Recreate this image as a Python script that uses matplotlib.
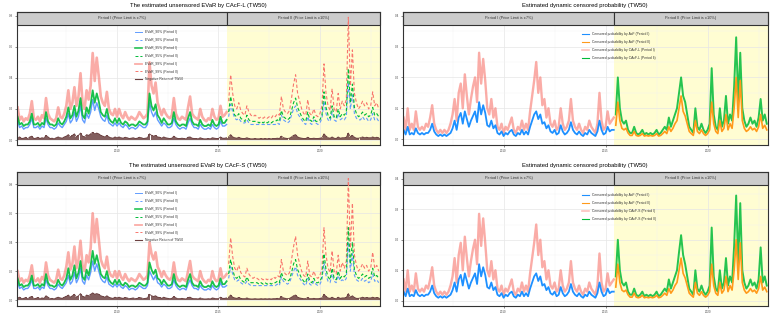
import numpy as np
import matplotlib
matplotlib.use("Agg")
import matplotlib.pyplot as plt
from matplotlib.lines import Line2D
from matplotlib.patches import Rectangle

plt.rcParams['font.family'] = ['Liberation Sans', 'DejaVu Sans']

# ---------------- data (fractional-year sampling grid, step 0.1 yr) ----------------
start_I, start_II, step = 2005.1, 2015.5, 0.1
split_year = 2015.42
strip_labels = ["Period I (Price Limit is \u00b17%)", "Period II (Price Limit is \u00b110%)"]
x_ticks = [2010, 2015, 2020]

# --- EVaR by CAcF-L (top-left)
evar99_L_I = [0.21,0.13,0.15,0.12,0.14,0.13,0.17,0.25,0.14,0.13,
              0.15,0.12,0.16,0.14,0.27,0.17,0.14,0.13,0.12,0.14,
              0.21,0.15,0.14,0.17,0.22,0.32,0.20,0.24,0.34,0.22,
              0.28,0.43,0.24,0.20,0.32,0.26,0.35,0.56,0.38,0.53,
              0.41,0.28,0.24,0.22,0.31,0.20,0.17,0.16,0.20,0.15,
              0.20,0.16,0.14,0.18,0.15,0.13,0.15,0.14,0.13,0.15,
              0.18,0.16,0.14,0.15,0.17,0.50,0.35,0.30,0.37,0.24,
              0.20,0.16,0.20,0.17,0.15,0.14,0.16,0.27,0.17,0.14,
              0.13,0.15,0.14,0.13,0.21,0.28,0.17,0.15,0.14,0.13,
              0.20,0.15,0.13,0.12,0.14,0.13,0.20,0.15,0.13,0.14,
              0.22,0.15,0.16,0.18]
evar95_L_I = [0.15,0.10,0.11,0.09,0.10,0.10,0.12,0.17,0.10,0.10,
              0.11,0.09,0.11,0.10,0.18,0.12,0.10,0.10,0.09,0.10,
              0.14,0.11,0.10,0.12,0.15,0.21,0.14,0.16,0.22,0.15,
              0.19,0.27,0.16,0.14,0.21,0.17,0.23,0.32,0.24,0.30,
              0.25,0.18,0.16,0.15,0.20,0.14,0.12,0.11,0.14,0.11,
              0.14,0.11,0.10,0.12,0.11,0.09,0.10,0.10,0.09,0.10,
              0.12,0.11,0.10,0.10,0.12,0.30,0.22,0.19,0.23,0.16,
              0.14,0.11,0.14,0.12,0.10,0.10,0.11,0.18,0.12,0.10,
              0.09,0.10,0.10,0.09,0.14,0.18,0.12,0.10,0.10,0.09,
              0.13,0.10,0.09,0.09,0.10,0.09,0.13,0.10,0.09,0.10,
              0.15,0.11,0.11,0.13]
evar90_L_I = [0.12,0.08,0.09,0.07,0.08,0.08,0.10,0.14,0.08,0.08,
              0.09,0.07,0.09,0.08,0.14,0.10,0.08,0.08,0.07,0.08,
              0.11,0.09,0.08,0.10,0.12,0.17,0.11,0.13,0.18,0.12,
              0.15,0.22,0.13,0.11,0.17,0.14,0.18,0.26,0.19,0.24,
              0.20,0.15,0.13,0.12,0.16,0.11,0.10,0.09,0.11,0.09,
              0.11,0.09,0.08,0.10,0.09,0.07,0.08,0.08,0.07,0.08,
              0.10,0.09,0.08,0.08,0.10,0.24,0.18,0.15,0.18,0.13,
              0.11,0.09,0.11,0.10,0.08,0.08,0.09,0.14,0.10,0.08,
              0.07,0.08,0.08,0.07,0.11,0.14,0.10,0.08,0.08,0.07,
              0.10,0.08,0.07,0.07,0.08,0.07,0.10,0.08,0.07,0.08,
              0.12,0.09,0.09,0.10]
evar99_L_II = [0.25,0.42,0.30,0.22,0.20,0.24,0.19,0.17,0.16,0.22,
               0.18,0.16,0.15,0.16,0.15,0.14,0.15,0.14,0.15,0.14,
               0.15,0.14,0.16,0.15,0.17,0.16,0.28,0.20,0.18,0.17,
               0.19,0.27,0.36,0.42,0.30,0.25,0.20,0.17,0.16,0.26,
               0.17,0.16,0.20,0.16,0.15,0.17,0.22,0.49,0.30,0.22,
               0.19,0.33,0.20,0.18,0.30,0.20,0.25,0.22,0.26,0.79,
               0.35,0.58,0.30,0.24,0.20,0.22,0.25,0.22,0.24,0.20,
               0.22,0.31,0.22,0.24,0.20]
evar95_L_II = [0.18,0.28,0.21,0.16,0.15,0.17,0.14,0.13,0.12,0.16,
               0.13,0.12,0.12,0.12,0.12,0.11,0.12,0.11,0.12,0.11,
               0.12,0.11,0.12,0.12,0.13,0.12,0.19,0.15,0.14,0.13,
               0.14,0.19,0.24,0.27,0.21,0.18,0.15,0.13,0.12,0.18,
               0.13,0.12,0.15,0.12,0.12,0.13,0.16,0.31,0.21,0.16,
               0.14,0.22,0.15,0.14,0.20,0.15,0.17,0.16,0.18,0.46,
               0.24,0.36,0.21,0.17,0.15,0.16,0.18,0.16,0.17,0.15,
               0.16,0.21,0.16,0.17,0.15]
evar90_L_II = [0.15,0.23,0.18,0.14,0.13,0.14,0.12,0.11,0.11,0.13,
               0.11,0.10,0.10,0.10,0.10,0.10,0.10,0.10,0.10,0.10,
               0.10,0.10,0.10,0.10,0.11,0.10,0.16,0.13,0.12,0.11,
               0.12,0.16,0.20,0.22,0.17,0.15,0.13,0.11,0.10,0.15,
               0.11,0.10,0.13,0.11,0.10,0.11,0.14,0.25,0.17,0.13,
               0.12,0.18,0.13,0.12,0.17,0.13,0.14,0.13,0.15,0.37,
               0.20,0.29,0.17,0.14,0.13,0.13,0.15,0.13,0.14,0.12,
               0.13,0.17,0.13,0.14,0.12]

# --- EVaR by CAcF-S (bottom-left)
evar99_S_I = [0.20,0.13,0.15,0.12,0.14,0.13,0.17,0.24,0.14,0.13,
              0.15,0.12,0.16,0.14,0.26,0.17,0.14,0.13,0.12,0.14,
              0.21,0.15,0.14,0.17,0.23,0.33,0.21,0.25,0.37,0.22,
              0.28,0.41,0.24,0.20,0.31,0.26,0.36,0.60,0.40,0.56,
              0.42,0.28,0.24,0.22,0.30,0.20,0.17,0.16,0.20,0.15,
              0.20,0.16,0.14,0.18,0.15,0.13,0.15,0.14,0.13,0.15,
              0.18,0.16,0.14,0.15,0.17,0.40,0.32,0.28,0.33,0.23,
              0.20,0.16,0.20,0.17,0.15,0.14,0.16,0.26,0.17,0.14,
              0.13,0.15,0.14,0.13,0.20,0.27,0.17,0.15,0.14,0.13,
              0.20,0.15,0.13,0.12,0.14,0.13,0.20,0.15,0.13,0.14,
              0.22,0.15,0.16,0.18]
evar95_S_I = [0.15,0.10,0.11,0.09,0.10,0.10,0.12,0.17,0.10,0.10,
              0.11,0.09,0.11,0.10,0.18,0.12,0.10,0.10,0.09,0.10,
              0.14,0.11,0.10,0.12,0.15,0.22,0.14,0.17,0.24,0.15,
              0.19,0.27,0.16,0.14,0.21,0.17,0.24,0.34,0.25,0.31,
              0.25,0.18,0.16,0.15,0.20,0.14,0.12,0.11,0.14,0.11,
              0.14,0.11,0.10,0.12,0.11,0.09,0.10,0.10,0.09,0.10,
              0.12,0.11,0.10,0.10,0.12,0.26,0.21,0.18,0.21,0.15,
              0.14,0.11,0.14,0.12,0.10,0.10,0.11,0.18,0.12,0.10,
              0.09,0.10,0.10,0.09,0.14,0.18,0.12,0.10,0.10,0.09,
              0.13,0.10,0.09,0.09,0.10,0.09,0.13,0.10,0.09,0.10,
              0.15,0.11,0.11,0.13]
evar90_S_I = [0.12,0.08,0.09,0.07,0.08,0.08,0.10,0.14,0.08,0.08,
              0.09,0.07,0.09,0.08,0.14,0.10,0.08,0.08,0.07,0.08,
              0.11,0.09,0.08,0.10,0.12,0.17,0.11,0.13,0.19,0.12,
              0.15,0.22,0.13,0.11,0.17,0.14,0.19,0.27,0.20,0.25,
              0.20,0.15,0.13,0.12,0.16,0.11,0.10,0.09,0.11,0.09,
              0.11,0.09,0.08,0.10,0.09,0.07,0.08,0.08,0.07,0.08,
              0.10,0.09,0.08,0.08,0.10,0.20,0.17,0.14,0.17,0.12,
              0.11,0.09,0.11,0.10,0.08,0.08,0.09,0.14,0.10,0.08,
              0.07,0.08,0.08,0.07,0.11,0.14,0.10,0.08,0.08,0.07,
              0.10,0.08,0.07,0.07,0.08,0.07,0.10,0.08,0.07,0.08,
              0.12,0.09,0.09,0.10]
evar99_S_II = [0.25,0.43,0.30,0.22,0.20,0.24,0.19,0.17,0.16,0.22,
               0.18,0.16,0.15,0.16,0.15,0.14,0.15,0.14,0.15,0.14,
               0.15,0.14,0.16,0.15,0.17,0.16,0.28,0.20,0.18,0.17,
               0.19,0.28,0.37,0.44,0.31,0.25,0.20,0.17,0.16,0.27,
               0.17,0.16,0.20,0.16,0.15,0.17,0.22,0.50,0.31,0.22,
               0.19,0.34,0.20,0.18,0.31,0.20,0.26,0.22,0.27,0.84,
               0.36,0.67,0.31,0.24,0.20,0.22,0.25,0.22,0.24,0.20,
               0.22,0.33,0.22,0.24,0.20]
evar95_S_II = [0.18,0.28,0.21,0.16,0.15,0.17,0.14,0.13,0.12,0.16,
               0.13,0.12,0.12,0.12,0.12,0.11,0.12,0.11,0.12,0.11,
               0.12,0.11,0.12,0.12,0.13,0.12,0.19,0.15,0.14,0.13,
               0.14,0.19,0.25,0.28,0.21,0.18,0.15,0.13,0.12,0.18,
               0.13,0.12,0.15,0.12,0.12,0.13,0.16,0.32,0.21,0.16,
               0.14,0.22,0.15,0.14,0.20,0.15,0.17,0.16,0.18,0.50,
               0.25,0.40,0.21,0.17,0.15,0.16,0.18,0.16,0.17,0.15,
               0.16,0.22,0.16,0.17,0.15]
evar90_S_II = [0.15,0.23,0.18,0.14,0.13,0.14,0.12,0.11,0.11,0.13,
               0.11,0.10,0.10,0.10,0.10,0.10,0.10,0.10,0.10,0.10,
               0.10,0.10,0.10,0.10,0.11,0.10,0.16,0.13,0.12,0.11,
               0.12,0.16,0.20,0.23,0.17,0.15,0.13,0.11,0.10,0.15,
               0.11,0.10,0.13,0.11,0.10,0.11,0.14,0.26,0.17,0.13,
               0.12,0.18,0.13,0.12,0.17,0.13,0.14,0.13,0.15,0.40,
               0.20,0.32,0.17,0.14,0.13,0.13,0.15,0.13,0.14,0.12,
               0.13,0.18,0.13,0.14,0.12]

# --- Negative return of TW50
negret_I = [0.015,0.02,0.01,0.012,0.018,0.008,0.02,0.025,0.01,0.012,
            0.018,0.01,0.015,0.012,0.03,0.02,0.01,0.012,0.008,0.015,
            0.02,0.015,0.012,0.02,0.025,0.035,0.02,0.03,0.04,0.02,
            0.03,0.045,0.025,0.02,0.035,0.03,0.04,0.05,0.04,0.045,
            0.04,0.03,0.025,0.02,0.03,0.02,0.015,0.012,0.02,0.015,
            0.02,0.015,0.012,0.018,0.015,0.01,0.012,0.015,0.01,0.012,
            0.018,0.015,0.01,0.012,0.015,0.04,0.03,0.025,0.03,0.02,
            0.018,0.012,0.02,0.015,0.012,0.01,0.012,0.025,0.015,0.01,
            0.01,0.012,0.01,0.008,0.018,0.02,0.012,0.01,0.01,0.008,
            0.015,0.01,0.008,0.008,0.01,0.008,0.015,0.012,0.01,0.01,
            0.02,0.012,0.012,0.015]
negret_II = [0.02,0.035,0.02,0.015,0.012,0.018,0.012,0.01,0.01,0.015,
             0.01,0.008,0.008,0.01,0.008,0.008,0.01,0.008,0.01,0.008,
             0.01,0.008,0.01,0.01,0.012,0.01,0.025,0.015,0.012,0.01,
             0.012,0.02,0.03,0.035,0.02,0.015,0.012,0.01,0.01,0.018,
             0.01,0.01,0.012,0.01,0.01,0.012,0.015,0.04,0.025,0.015,
             0.012,0.02,0.012,0.01,0.02,0.012,0.015,0.015,0.018,0.045,
             0.02,0.03,0.018,0.012,0.012,0.015,0.02,0.015,0.018,0.015,
             0.015,0.02,0.015,0.018,0.015]

# --- Censored probabilities
prob_AcF_I = [0.03,0.015,0.04,0.015,0.02,0.015,0.035,0.02,0.015,0.02,
              0.015,0.02,0.02,0.03,0.05,0.025,0.015,0.01,0.015,0.01,
              0.015,0.01,0.015,0.02,0.035,0.06,0.03,0.07,0.085,0.05,
              0.09,0.065,0.04,0.06,0.075,0.09,0.055,0.12,0.08,0.11,
              0.085,0.045,0.04,0.06,0.035,0.045,0.02,0.015,0.025,0.01,
              0.02,0.015,0.025,0.03,0.015,0.01,0.02,0.015,0.03,0.015,
              0.025,0.015,0.04,0.06,0.08,0.09,0.065,0.08,0.05,0.055,
              0.035,0.045,0.025,0.02,0.03,0.015,0.02,0.045,0.025,0.015,
              0.02,0.03,0.055,0.03,0.02,0.015,0.025,0.015,0.01,0.02,
              0.015,0.03,0.02,0.015,0.01,0.025,0.06,0.03,0.015,0.02,
              0.04,0.025,0.03,0.03]
prob_AcF_II = [0.045,0.12,0.06,0.035,0.03,0.035,0.02,0.012,0.012,0.025,
               0.012,0.01,0.012,0.018,0.01,0.012,0.01,0.012,0.01,0.012,
               0.018,0.01,0.012,0.018,0.025,0.018,0.04,0.025,0.035,0.05,
               0.06,0.1,0.14,0.09,0.075,0.05,0.025,0.018,0.012,0.06,
               0.025,0.018,0.03,0.018,0.012,0.018,0.03,0.12,0.05,0.025,
               0.018,0.06,0.025,0.035,0.08,0.03,0.05,0.035,0.1,0.2,
               0.07,0.19,0.06,0.035,0.025,0.03,0.04,0.03,0.035,0.025,
               0.04,0.08,0.035,0.045,0.03]
prob_L_I = [0.07,0.03,0.10,0.03,0.05,0.03,0.09,0.04,0.03,0.04,
            0.03,0.05,0.04,0.07,0.11,0.05,0.03,0.02,0.03,0.02,
            0.03,0.02,0.03,0.05,0.08,0.13,0.06,0.15,0.18,0.10,
            0.21,0.14,0.08,0.13,0.17,0.20,0.12,0.28,0.18,0.26,
            0.19,0.10,0.08,0.13,0.07,0.10,0.04,0.03,0.05,0.02,
            0.04,0.03,0.05,0.07,0.03,0.02,0.04,0.03,0.06,0.03,
            0.05,0.03,0.09,0.14,0.19,0.25,0.15,0.20,0.11,0.13,
            0.07,0.10,0.05,0.04,0.06,0.03,0.04,0.10,0.05,0.03,
            0.04,0.06,0.13,0.06,0.04,0.03,0.05,0.03,0.02,0.04,
            0.03,0.06,0.04,0.03,0.02,0.05,0.15,0.06,0.03,0.04,
            0.09,0.05,0.06,0.07]
prob_L_II = [0.08,0.20,0.10,0.06,0.05,0.06,0.03,0.02,0.02,0.04,
             0.02,0.015,0.02,0.03,0.015,0.02,0.015,0.02,0.015,0.02,
             0.03,0.015,0.02,0.03,0.04,0.03,0.07,0.04,0.06,0.08,
             0.10,0.15,0.20,0.14,0.12,0.08,0.04,0.03,0.02,0.10,
             0.04,0.03,0.05,0.03,0.02,0.03,0.05,0.23,0.08,0.04,
             0.03,0.10,0.04,0.06,0.14,0.05,0.08,0.06,0.17,0.33,
             0.12,0.28,0.10,0.06,0.04,0.05,0.07,0.05,0.06,0.04,
             0.07,0.13,0.06,0.08,0.05]
prob_S_I = [0.07,0.03,0.10,0.03,0.05,0.03,0.09,0.04,0.03,0.04,
            0.03,0.05,0.04,0.07,0.11,0.05,0.03,0.02,0.03,0.02,
            0.03,0.02,0.03,0.05,0.08,0.14,0.06,0.15,0.19,0.10,
            0.21,0.14,0.08,0.13,0.17,0.20,0.12,0.285,0.18,0.27,
            0.19,0.10,0.08,0.13,0.07,0.10,0.04,0.03,0.05,0.02,
            0.04,0.03,0.05,0.07,0.03,0.02,0.04,0.03,0.06,0.03,
            0.05,0.03,0.09,0.14,0.19,0.25,0.15,0.20,0.11,0.13,
            0.07,0.10,0.05,0.04,0.06,0.03,0.04,0.10,0.05,0.03,
            0.04,0.06,0.13,0.06,0.04,0.03,0.05,0.03,0.02,0.04,
            0.03,0.06,0.04,0.03,0.02,0.05,0.155,0.06,0.03,0.04,
            0.09,0.05,0.06,0.07]
prob_S_II = [0.08,0.20,0.10,0.06,0.05,0.06,0.03,0.02,0.02,0.04,
             0.02,0.015,0.02,0.03,0.015,0.02,0.015,0.02,0.015,0.02,
             0.03,0.015,0.02,0.03,0.04,0.03,0.07,0.04,0.06,0.08,
             0.10,0.16,0.215,0.15,0.12,0.08,0.04,0.03,0.02,0.10,
             0.04,0.03,0.05,0.03,0.02,0.03,0.05,0.24,0.08,0.04,
             0.03,0.10,0.04,0.06,0.14,0.05,0.08,0.06,0.18,0.345,
             0.12,0.32,0.10,0.06,0.04,0.05,0.07,0.05,0.06,0.04,
             0.07,0.175,0.06,0.08,0.05]

# ---------------- styling ----------------
RED = '#F8766D'
GREEN = '#00BA38'
BLUE_L = '#619CFF'
BLUE_R = '#1E90FF'
ORANGE = '#FF9A1A'
BROWN = '#6B4040'
YELLOW = '#FFFDD2'
STRIP = '#CCCCCC'
DARK = '#333333'

W, H = 775, 320
fig = plt.figure(figsize=(W / 100, H / 100), dpi=100)
fig.patch.set_facecolor('white')


def make_ax(x0, y0, x1, y1):
    return fig.add_axes([x0 / W, 1 - y1 / H, (x1 - x0) / W, (y1 - y0) / H])


def times(n, start):
    return start + step * np.arange(n)


XLIM = (2005.07, 2022.96)
STRIP_H = 0.095


def base_axes(ax, ylim, yticks, yminor, title, title_xc, title_y):
    ax.set_xlim(*XLIM)
    ax.set_ylim(*ylim)
    ax.set_facecolor('white')
    ax.set_axisbelow(True)
    ax.set_xticks(x_ticks)
    ax.set_xticklabels([str(v) for v in x_ticks])
    ax.set_xticks([2007.5, 2012.5, 2017.5, 2022.5], minor=True)
    ax.set_yticks(yticks)
    ax.set_yticklabels(['%.1f' % v for v in yticks])
    ax.set_yticks(yminor, minor=True)
    ax.grid(True, which='major', color='#E6E6E6', lw=0.5)
    ax.grid(True, which='minor', color='#F2F2F2', lw=0.3)
    ax.tick_params(which='major', labelsize=2.2, length=1.5, width=0.4,
                   color=DARK, labelcolor='#4D4D4D', pad=1.5)
    ax.tick_params(which='minor', length=0)
    for s in ax.spines.values():
        s.set_color(DARK)
        s.set_linewidth(0.8)
        s.set_zorder(10)
    ax.add_patch(Rectangle((split_year, 0), XLIM[1] - split_year, 1 - STRIP_H,
                           transform=ax.get_xaxis_transform(), facecolor=YELLOW,
                           edgecolor='none', zorder=0.2))
    trans = ax.get_xaxis_transform()
    for (xa, xb), lab in zip([(XLIM[0], split_year), (split_year, XLIM[1])], strip_labels):
        ax.add_patch(Rectangle((xa, 1 - STRIP_H), xb - xa, STRIP_H, transform=trans,
                               facecolor=STRIP, edgecolor=DARK, lw=0.8, zorder=2,
                               clip_on=False))
        ax.text((xa + xb) / 2, 1 - STRIP_H / 2, lab, transform=trans, ha='center',
                va='center', fontsize=2.8, color='#333333', zorder=2.5)
    fig.text(title_xc / W, 1 - title_y / H, title, ha='center', va='center',
             fontsize=4.2, color='black')


def legend(ax, handles, labels, x, y):
    leg = ax.legend(handles, labels, loc='upper left', bbox_to_anchor=(x, y),
                    frameon=False, fontsize=2.4, handlelength=2.0, handletextpad=1.0,
                    labelspacing=1.15, borderpad=0, borderaxespad=0)
    for t in leg.get_texts():
        t.set_color('#333333')
    leg.set_zorder(12)


DASH = (0, (3, 2))


def evar_panel(ax, r99I, r95I, r90I, r99II, r95II, r90II):
    ax.plot(times(len(r99I), start_I), r99I, color=RED, lw=1.9, alpha=0.6, zorder=3)
    ax.plot(times(len(r99II), start_II), r99II, color=RED, lw=0.8, ls=DASH, zorder=3)
    ax.plot(times(len(r90I), start_I), r90I, color=BLUE_L, lw=1.0, zorder=3.2)
    ax.plot(times(len(r90II), start_II), r90II, color=BLUE_L, lw=0.8, ls=DASH, zorder=3.2)
    ax.plot(times(len(r95I), start_I), r95I, color=GREEN, lw=1.3, alpha=0.9, zorder=3.4)
    ax.plot(times(len(r95II), start_II), r95II, color=GREEN, lw=0.8, ls=DASH, zorder=3.4)
    for vals, st in [(negret_I, start_I), (negret_II, start_II)]:
        tt = times(len(vals), st)
        ax.vlines(tt, 0, vals, color=BROWN, lw=1.2, zorder=4)
        ax.plot(tt, vals, color=BROWN, lw=0.6, zorder=4)
    handles = [Line2D([], [], color=BLUE_L, lw=0.7),
               Line2D([], [], color=BLUE_L, lw=0.7, ls=DASH),
               Line2D([], [], color=GREEN, lw=1.2, alpha=0.85),
               Line2D([], [], color=GREEN, lw=0.7, ls=DASH),
               Line2D([], [], color=RED, lw=1.3, alpha=0.6),
               Line2D([], [], color=RED, lw=0.7, ls=DASH),
               Line2D([], [], color=BROWN, lw=0.8)]
    labels = ['EVaR_90% (Period I)', 'EVaR_90% (Period II)',
              'EVaR_95% (Period I)', 'EVaR_95% (Period II)',
              'EVaR_99% (Period I)', 'EVaR_99% (Period II)',
              'Negative Return of TW50']
    return handles, labels


def prob_panel(ax, cI, cII, model):
    ax.plot(times(len(cI), start_I), cI, color=RED, lw=1.7, alpha=0.6, zorder=3)
    ax.plot(times(len(prob_AcF_I), start_I), prob_AcF_I, color=BLUE_R, lw=1.3, zorder=3.5)
    ax.plot(times(len(cII), start_II), cII, color=GREEN, lw=1.4, alpha=0.85, zorder=3)
    ax.plot(times(len(prob_AcF_II), start_II), prob_AcF_II, color=ORANGE, lw=1.2, zorder=3.5)
    handles = [Line2D([], [], color=BLUE_R, lw=0.8),
               Line2D([], [], color=ORANGE, lw=0.8),
               Line2D([], [], color=RED, lw=1.2, alpha=0.45),
               Line2D([], [], color=GREEN, lw=0.8)]
    labels = ['Censored probability by AcF (Period I)',
              'Censored probability by AcF (Period II)',
              'Censored probability by %s (Period I)' % model,
              'Censored probability by %s (Period II)' % model]
    return handles, labels


# ---- top-left
ax = make_ax(17, 12, 380, 145)
base_axes(ax, (-0.032, 0.824), [0, 0.2, 0.4, 0.6, 0.8], [0.1, 0.3, 0.5, 0.7],
          'The estimated unsensored EVaR by CAcF-L (TW50)', 198, 6)
h, l = evar_panel(ax, evar99_L_I, evar95_L_I, evar90_L_I, evar99_L_II, evar95_L_II, evar90_L_II)
legend(ax, h, l, 0.325, 0.862)

# ---- top-right
ax = make_ax(403, 12, 768, 145)
base_axes(ax, (-0.019, 0.412), [0, 0.1, 0.2, 0.3, 0.4], [0.05, 0.15, 0.25, 0.35],
          'Estimated dynamic censored probability (TW50)', 585, 6)
h, l = prob_panel(ax, prob_L_I, prob_L_II, 'CAcF-L')
legend(ax, h, l, 0.49, 0.848)

# ---- bottom-left
ax = make_ax(17, 172, 380, 306)
base_axes(ax, (-0.041, 0.885), [0, 0.2, 0.4, 0.6, 0.8], [0.1, 0.3, 0.5, 0.7],
          'The estimated unsensored EVaR by CAcF-S (TW50)', 198, 166)
h, l = evar_panel(ax, evar99_S_I, evar95_S_I, evar90_S_I, evar99_S_II, evar95_S_II, evar90_S_II)
legend(ax, h, l, 0.325, 0.855)

# ---- bottom-right
ax = make_ax(403, 172, 768, 306)
base_axes(ax, (-0.017, 0.422), [0, 0.1, 0.2, 0.3, 0.4], [0.05, 0.15, 0.25, 0.35],
          'Estimated dynamic censored probability (TW50)', 585, 166)
h, l = prob_panel(ax, prob_S_I, prob_S_II, 'CAcF-S')
legend(ax, h, l, 0.49, 0.842)

fig.savefig('out.png', dpi=100, facecolor='white')
